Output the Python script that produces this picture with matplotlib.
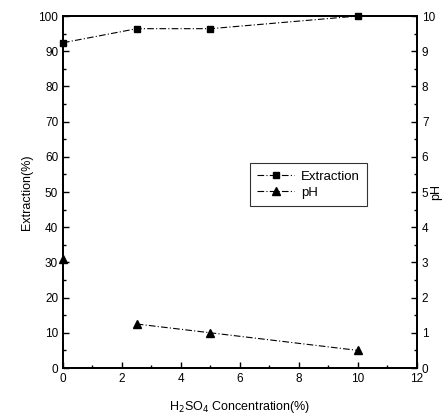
import matplotlib
matplotlib.use("Agg")
import matplotlib.pyplot as plt
from matplotlib.ticker import MultipleLocator

plt.rcParams['font.family'] = ['Liberation Sans', 'DejaVu Sans']

#==[0] Data
conc = [0, 2.5, 5, 10]
extraction = [92.4, 96.4, 96.4, 100.0]
ph = [3.1, 1.25, 1.0, 0.5]

#==[1] Figure and axes
fig = plt.figure(figsize=(4.48, 4.19), dpi=100)
ax = fig.add_axes([0.1406, 0.1217, 0.7902, 0.8401])
ax2 = ax.twinx()

dashdot = (0, (6, 2, 1, 2))
l1, = ax.plot(conc, extraction, color='black', lw=0.8, ls=dashdot,
              marker='s', ms=5, clip_on=False, label='Extraction')
# the first pH point stands alone in the reference, no connecting segment
l2, = ax2.plot(conc[1:], ph[1:], color='black', lw=0.8, ls=dashdot,
               marker='^', ms=6, clip_on=False, label='pH')
ax2.plot(conc[:1], ph[:1], color='black', ls='none', marker='^', ms=6,
         clip_on=False)

ax.set_xlim(0, 12)
ax.set_ylim(0, 100)
ax2.set_ylim(0, 10)

ax.xaxis.set_major_locator(MultipleLocator(2))
ax.xaxis.set_minor_locator(MultipleLocator(1))
ax.yaxis.set_major_locator(MultipleLocator(10))
ax.yaxis.set_minor_locator(MultipleLocator(5))
ax2.yaxis.set_major_locator(MultipleLocator(1))
ax2.yaxis.set_minor_locator(MultipleLocator(0.5))

for a in (ax, ax2):
    a.tick_params(which='both', direction='in', labelsize=8.5, width=1)
    a.tick_params(which='major', length=4)
    a.tick_params(which='minor', length=2)
    for s in a.spines.values():
        s.set_linewidth(1.3)

ax.set_xlabel('H$_2$SO$_4$ Concentration(%)', fontsize=9, labelpad=10)
ax.set_ylabel('Extraction(%)', fontsize=9, labelpad=4)
ax2.set_ylabel('pH', fontsize=9, rotation=90, va='center')
ax2.yaxis.set_label_coords(1.055, 0.5)

#==[2] Legend
leg = ax.legend([l1, l2], ['Extraction', 'pH'], loc='upper left',
                bbox_to_anchor=(0.51, 0.6), fontsize=9.5, frameon=True,
                fancybox=False, edgecolor='black', handlelength=2.8,
                borderpad=0.55, labelspacing=0.3, handletextpad=0.5)
leg.get_frame().set_linewidth(0.8)

fig.savefig('out.png', dpi=100)
